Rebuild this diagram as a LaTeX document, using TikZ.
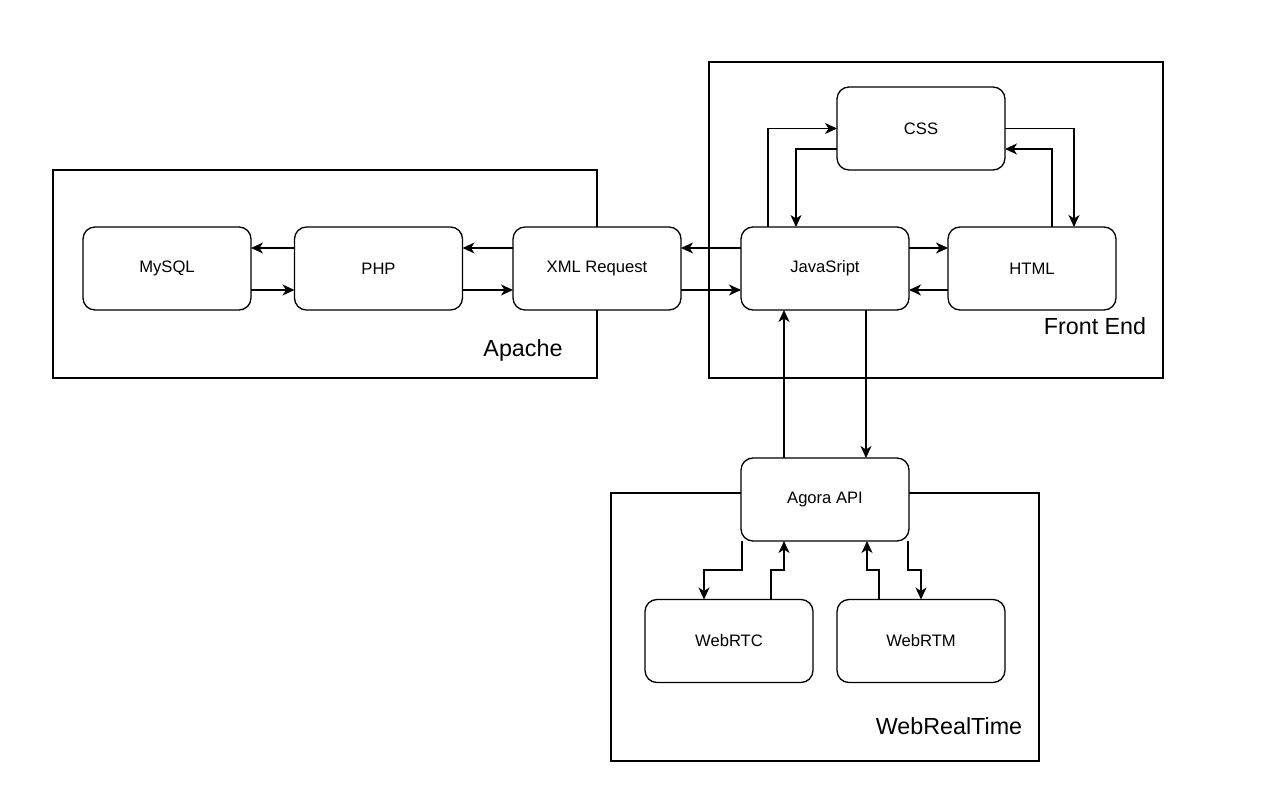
\documentclass[tikz,border=0pt]{standalone}
\usepackage{fontspec}
\setmainfont{Liberation Sans}
\usetikzlibrary{arrows.meta}
\begin{document}
\begin{tikzpicture}[x=1pt,y=-1pt,
  box/.style={draw, rounded corners=12pt, fill=white, minimum width=168pt, minimum height=83pt, line width=1.3pt, font=\fontsize{16.6}{18}\selectfont, outer sep=0pt, inner sep=0pt},
  frame/.style={draw, line width=1.3pt, inner sep=0pt, outer sep=0pt},
  flabel/.style={font=\fontsize{23.3}{26}\selectfont, inner sep=0pt},
  arr/.style={-{Stealth[length=12pt,width=11pt,inset=3.5pt]}, line width=1.3pt}]
\useasboundingbox (0,0) rectangle (1266,799);
\fill[white] (0,0) rectangle (1266,799);
% frames
\node[frame, minimum width=544pt, minimum height=208pt] (apache) at (325,274) {};
\node[frame, minimum width=454pt, minimum height=316pt] (front) at (936,220) {};
\node[frame, minimum width=428pt, minimum height=268pt] (wrt) at (825,627) {};
\node[flabel] (apachelbl) at (523,350) {Apache};
\node[flabel] (frontlbl) at (1095,326) {Front End};
\node[flabel] (wrtlbl) at (949,726) {WebRealTime};
% boxes
\node[box] (mysql) at (167,268.5) {MySQL};
\node[box] (php) at (378.5,268.5) {PHP};
\node[box] (xml) at (597,268.5) {XML Request};
\node[box] (js) at (825,268.5) {JavaSript};
\node[box] (html) at (1032,268.5) {HTML};
\node[box] (css) at (921,128.5) {CSS};
\node[box] (agora) at (825,499.5) {Agora API};
\node[box] (rtc) at (729,641) {WebRTC};
\node[box] (rtm) at (921,641) {WebRTM};
% horizontal chain
\draw[arr] ([yshift=20.5pt]php.west) -- ([yshift=20.5pt]mysql.east);
\draw[arr] ([yshift=-21.5pt]mysql.east) -- ([yshift=-21.5pt]php.west);
\draw[arr] ([yshift=20.5pt]xml.west) -- ([yshift=20.5pt]php.east);
\draw[arr] ([yshift=-21.5pt]php.east) -- ([yshift=-21.5pt]xml.west);
\draw[arr] ([yshift=20.5pt]js.west) -- ([yshift=20.5pt]xml.east);
\draw[arr] ([yshift=-21.5pt]xml.east) -- ([yshift=-21.5pt]js.west);
\draw[arr] ([yshift=20.5pt]js.east) -- ([yshift=20.5pt]html.west);
\draw[arr] ([yshift=-21.5pt]html.west) -- ([yshift=-21.5pt]js.east);
% CSS loops
\draw[arr] ([xshift=-57pt]js.north) |- (css.west);
\draw[arr] ([yshift=-20.5pt]css.west) -| ([xshift=-29pt]js.north);
\draw[arr] (css.east) -| ([xshift=42pt]html.north);
\draw[arr] ([xshift=20pt]html.north) |- ([yshift=-20.5pt]css.east);
% JS <-> Agora
\draw[arr] ([xshift=-41pt]agora.north) -- ([xshift=-41pt]js.south);
\draw[arr] ([xshift=41pt]js.south) -- ([xshift=41pt]agora.north);
% Agora <-> WebRTC / WebRTM
\draw[arr] ([xshift=-83pt]agora.south) -- ++(0,29) -| ([xshift=-25pt]rtc.north);
\draw[arr] ([xshift=42pt]rtc.north) |- (784,570) -- ([xshift=-41pt]agora.south);
\draw[arr] ([xshift=-42pt]rtm.north) |- (867,570) -- ([xshift=42pt]agora.south);
\draw[arr] ([xshift=83pt]agora.south) -- ++(0,29) -| (rtm.north);
\end{tikzpicture}
\end{document}
